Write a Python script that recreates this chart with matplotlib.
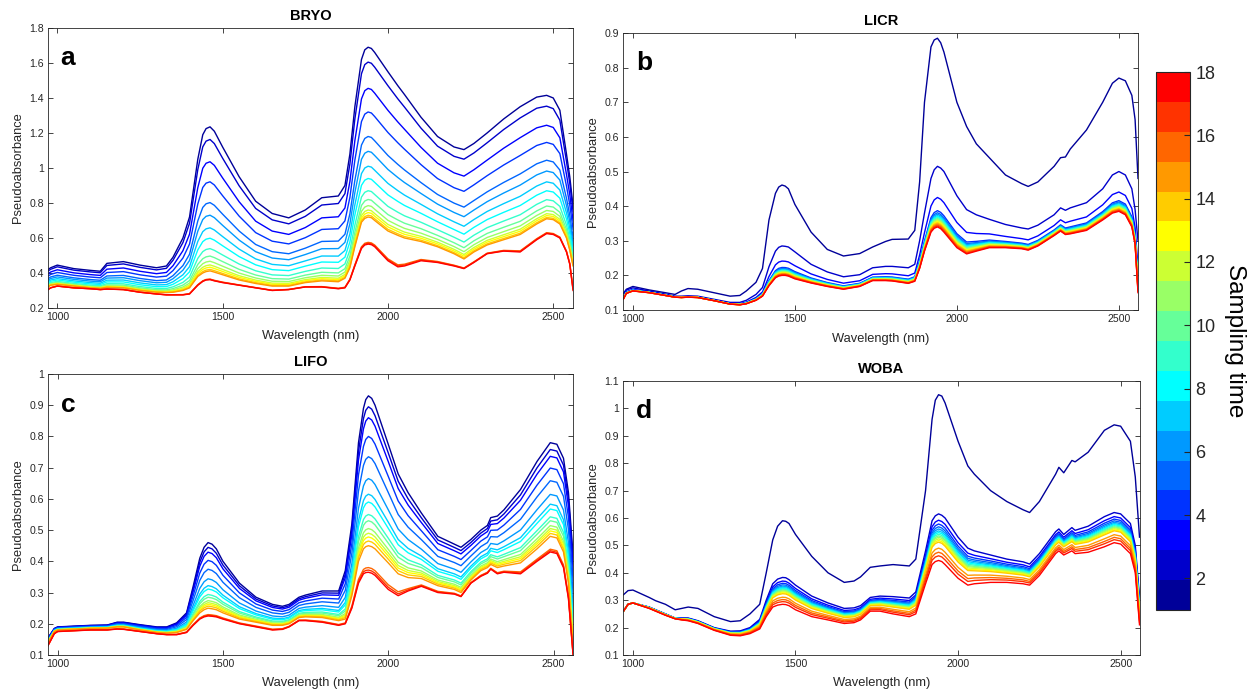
"""Pseudoabsorbance NIR spectra of four cryptogam groups over 18 sampling times."""

import matplotlib
matplotlib.use("Agg")
import matplotlib.pyplot as plt
import numpy as np
from matplotlib.cm import ScalarMappable
from matplotlib.colors import ListedColormap, Normalize

# --- data -----------------------------------------------------------------
# each panel: a wavelength grid, a few "key" spectra (read directly), and the
# ~1940 nm peak value of every sampling time 1..18 (also)

titles = ["BRYO", "LICR", "LIFO", "WOBA"]
letters = ["a", "b", "c", "d"]
sampling_times = list(range(1, 19))

# BRYO
wl_a = [972, 980, 1000, 1050, 1100, 1130, 1150, 1200, 1250, 1300,
        1330, 1350, 1380, 1400, 1425, 1440, 1450, 1462, 1475, 1500,
        1550, 1600, 1650, 1700, 1750, 1800, 1850, 1870, 1885, 1900,
        1920, 1930, 1940, 1950, 1960, 2000, 2030, 2050, 2100, 2150,
        2200, 2230, 2260, 2300, 2350, 2400, 2450, 2480, 2500, 2520,
        2540, 2550, 2560]
bryo_t1 = [0.42, 0.43, 0.445, 0.425, 0.415, 0.41, 0.455, 0.465, 0.445, 0.43,
           0.44, 0.49, 0.6, 0.72, 1.05, 1.19, 1.225, 1.235, 1.21, 1.12,
           0.95, 0.81, 0.74, 0.715, 0.76, 0.83, 0.84, 0.9, 1.08, 1.35,
           1.62, 1.675, 1.69, 1.683, 1.66, 1.55, 1.47, 1.42, 1.29, 1.18,
           1.12, 1.105, 1.14, 1.2, 1.28, 1.35, 1.405, 1.415, 1.4, 1.33,
           1.08, 0.95, 0.78]
bryo_t15 = [0.32, 0.33, 0.335, 0.325, 0.315, 0.312, 0.318, 0.315, 0.3, 0.29,
            0.288, 0.29, 0.3, 0.315, 0.38, 0.4, 0.408, 0.412, 0.405, 0.39,
            0.36, 0.34, 0.325, 0.325, 0.345, 0.355, 0.35, 0.37, 0.43, 0.55,
            0.69, 0.712, 0.72, 0.716, 0.7, 0.64, 0.615, 0.6, 0.58, 0.55,
            0.51, 0.48, 0.52, 0.56, 0.59, 0.62, 0.68, 0.71, 0.705, 0.68,
            0.6, 0.53, 0.44]
bryo_t18 = [0.305, 0.315, 0.325, 0.315, 0.31, 0.305, 0.308, 0.305, 0.29, 0.28,
            0.275, 0.275, 0.275, 0.28, 0.33, 0.352, 0.36, 0.362, 0.355, 0.345,
            0.33, 0.315, 0.3, 0.305, 0.32, 0.32, 0.31, 0.315, 0.36, 0.44,
            0.54, 0.56, 0.565, 0.562, 0.55, 0.47, 0.435, 0.44, 0.47, 0.46,
            0.44, 0.425, 0.46, 0.51, 0.525, 0.52, 0.59, 0.625, 0.62, 0.6,
            0.52, 0.45, 0.3]
bryo_peaks = [1.69, 1.605, 1.455, 1.32, 1.18, 1.095, 1.01, 0.94, 0.87, 0.82, 0.785, 0.76,
              0.745, 0.73, 0.72, 0.575, 0.57, 0.565]

# LICR
wl_b = [971, 980, 1000, 1050, 1100, 1130, 1150, 1170, 1200, 1250,
        1300, 1330, 1350, 1380, 1400, 1420, 1440, 1450, 1460, 1470,
        1480, 1500, 1550, 1600, 1650, 1700, 1740, 1780, 1800, 1850,
        1870, 1885, 1900, 1920, 1930, 1940, 1950, 1960, 2000, 2030,
        2060, 2100, 2150, 2200, 2220, 2250, 2300, 2320, 2335, 2350,
        2400, 2450, 2480, 2500, 2520, 2540, 2550, 2559]
licr_t1 = [0.148, 0.16, 0.168, 0.158, 0.15, 0.145, 0.155, 0.162, 0.16, 0.15,
           0.14, 0.142, 0.155, 0.18, 0.22, 0.36, 0.437, 0.455, 0.461, 0.458,
           0.45, 0.405, 0.325, 0.275, 0.256, 0.263, 0.282, 0.298, 0.304, 0.305,
           0.33, 0.47, 0.7, 0.86, 0.88, 0.885, 0.872, 0.845, 0.7, 0.63,
           0.58, 0.54, 0.49, 0.465, 0.457, 0.47, 0.515, 0.54, 0.542, 0.565,
           0.62, 0.7, 0.755, 0.77, 0.762, 0.72, 0.65, 0.48]
licr_t2 = [0.148, 0.158, 0.164, 0.155, 0.146, 0.14, 0.14, 0.141, 0.14, 0.131,
           0.122, 0.122, 0.128, 0.145, 0.165, 0.225, 0.27, 0.281, 0.285, 0.284,
           0.282, 0.268, 0.232, 0.21, 0.196, 0.202, 0.222, 0.226, 0.226, 0.222,
           0.232, 0.3, 0.38, 0.48, 0.505, 0.515, 0.51, 0.5, 0.43, 0.39,
           0.375, 0.362, 0.347, 0.337, 0.334, 0.345, 0.375, 0.395, 0.388, 0.395,
           0.41, 0.45, 0.49, 0.5, 0.49, 0.45, 0.39, 0.3]
licr_t18 = [0.132, 0.148, 0.155, 0.15, 0.142, 0.137, 0.136, 0.137, 0.136, 0.127,
            0.117, 0.115, 0.118, 0.128, 0.14, 0.17, 0.193, 0.198, 0.2, 0.2,
            0.198, 0.19, 0.178, 0.168, 0.16, 0.168, 0.185, 0.185, 0.184, 0.177,
            0.183, 0.22, 0.27, 0.325, 0.336, 0.34, 0.335, 0.325, 0.28, 0.262,
            0.27, 0.28, 0.28, 0.277, 0.273, 0.285, 0.315, 0.328, 0.318, 0.32,
            0.33, 0.36, 0.38, 0.385, 0.375, 0.34, 0.29, 0.15]
licr_peaks = [0.885, 0.515, 0.425, 0.387, 0.381, 0.377, 0.373, 0.37, 0.367, 0.364, 0.361, 0.358,
              0.355, 0.352, 0.349, 0.346, 0.343, 0.34]

# LIFO
wl_c = [971, 990, 1000, 1100, 1150, 1180, 1200, 1250, 1300, 1330,
        1360, 1390, 1410, 1430, 1443, 1455, 1467, 1480, 1500, 1550,
        1600, 1650, 1680, 1700, 1730, 1750, 1800, 1850, 1870, 1890,
        1910, 1925, 1932, 1940, 1950, 1960, 2000, 2030, 2060, 2100,
        2150, 2200, 2220, 2250, 2280, 2300, 2310, 2330, 2350, 2400,
        2450, 2490, 2510, 2530, 2545, 2559]
lifo_t1 = [0.155, 0.185, 0.19, 0.195, 0.196, 0.205, 0.205, 0.197, 0.19, 0.19,
           0.203, 0.235, 0.32, 0.41, 0.445, 0.46, 0.455, 0.44, 0.4, 0.33,
           0.285, 0.262, 0.256, 0.262, 0.285, 0.292, 0.305, 0.305, 0.37, 0.52,
           0.78, 0.89, 0.918, 0.93, 0.922, 0.9, 0.775, 0.68, 0.62, 0.555,
           0.48, 0.455, 0.445, 0.47, 0.5, 0.515, 0.54, 0.545, 0.565, 0.63,
           0.72, 0.78, 0.775, 0.73, 0.62, 0.42]
lifo_t15 = [0.14, 0.175, 0.18, 0.185, 0.186, 0.19, 0.19, 0.18, 0.172, 0.17,
            0.172, 0.182, 0.21, 0.235, 0.245, 0.25, 0.248, 0.245, 0.235, 0.215,
            0.205, 0.195, 0.195, 0.2, 0.22, 0.222, 0.22, 0.21, 0.215, 0.29,
            0.4, 0.44, 0.447, 0.45, 0.447, 0.44, 0.395, 0.36, 0.348, 0.345,
            0.322, 0.31, 0.3, 0.34, 0.37, 0.38, 0.39, 0.38, 0.385, 0.395,
            0.44, 0.48, 0.475, 0.43, 0.33, 0.12]
lifo_t18 = [0.13, 0.168, 0.175, 0.18, 0.18, 0.183, 0.182, 0.175, 0.168, 0.165,
            0.165, 0.172, 0.195, 0.215, 0.222, 0.225, 0.224, 0.222, 0.215, 0.2,
            0.19, 0.18, 0.182, 0.19, 0.21, 0.21, 0.205, 0.195, 0.2, 0.25,
            0.33, 0.36, 0.364, 0.365, 0.362, 0.355, 0.31, 0.29, 0.305, 0.32,
            0.3, 0.295, 0.287, 0.33, 0.352, 0.362, 0.375, 0.36, 0.365, 0.36,
            0.4, 0.43, 0.425, 0.38, 0.28, 0.1]
lifo_peaks = [0.93, 0.895, 0.86, 0.8, 0.735, 0.665, 0.615, 0.59, 0.55, 0.53, 0.505, 0.49,
              0.478, 0.465, 0.45, 0.38, 0.372, 0.365]

# WOBA
wl_d = [971, 985, 1000, 1050, 1070, 1100, 1130, 1150, 1170, 1200,
        1250, 1300, 1330, 1360, 1390, 1410, 1430, 1445, 1460, 1470,
        1480, 1500, 1550, 1600, 1650, 1680, 1700, 1730, 1760, 1800,
        1850, 1870, 1900, 1920, 1930, 1940, 1950, 1960, 2000, 2030,
        2050, 2100, 2150, 2200, 2220, 2250, 2300, 2310, 2325, 2350,
        2360, 2400, 2450, 2480, 2500, 2530, 2545, 2558]
woba_t1 = [0.32, 0.335, 0.337, 0.31, 0.298, 0.285, 0.265, 0.27, 0.275, 0.27,
           0.24, 0.222, 0.225, 0.25, 0.285, 0.4, 0.52, 0.57, 0.59, 0.588,
           0.58, 0.54, 0.46, 0.4, 0.365, 0.37, 0.385, 0.42, 0.425, 0.43,
           0.425, 0.45, 0.7, 0.96, 1.03, 1.05, 1.045, 1.02, 0.88, 0.79,
           0.76, 0.7, 0.66, 0.63, 0.62, 0.66, 0.76, 0.785, 0.765, 0.81,
           0.805, 0.84, 0.92, 0.94, 0.935, 0.88, 0.75, 0.53]
woba_t2 = [0.26, 0.285, 0.29, 0.275, 0.265, 0.25, 0.235, 0.235, 0.235, 0.225,
           0.2, 0.187, 0.188, 0.2, 0.23, 0.3, 0.36, 0.377, 0.383, 0.382,
           0.375, 0.355, 0.315, 0.29, 0.27, 0.272, 0.28, 0.31, 0.315, 0.313,
           0.308, 0.33, 0.48, 0.59, 0.608, 0.615, 0.61, 0.6, 0.53, 0.49,
           0.48, 0.465, 0.45, 0.44, 0.432, 0.47, 0.55, 0.56, 0.54, 0.565,
           0.555, 0.57, 0.605, 0.62, 0.615, 0.58, 0.5, 0.31]
woba_t18 = [0.26, 0.285, 0.29, 0.27, 0.26, 0.245, 0.232, 0.228, 0.225, 0.215,
            0.19, 0.172, 0.17, 0.178, 0.195, 0.24, 0.275, 0.282, 0.285, 0.284,
            0.28, 0.265, 0.24, 0.228, 0.215, 0.218, 0.228, 0.26, 0.26, 0.25,
            0.24, 0.25, 0.36, 0.43, 0.441, 0.445, 0.441, 0.43, 0.38, 0.355,
            0.36, 0.365, 0.365, 0.36, 0.355, 0.39, 0.47, 0.48, 0.465, 0.48,
            0.47, 0.475, 0.495, 0.51, 0.505, 0.47, 0.4, 0.21]
woba_peaks = [1.05, 0.615, 0.592, 0.578, 0.568, 0.56, 0.553, 0.547, 0.541, 0.535, 0.53, 0.524,
              0.518, 0.512, 0.49, 0.475, 0.462, 0.445]

# 18-step jet-like palette used for sampling time 1..18
time_colors = ["#000099", "#0000cc", "#0000ff", "#0033ff", "#0066ff", "#0099ff",
               "#00ccff", "#00ffff", "#33ffcc", "#66ff99", "#99ff66", "#ccff33",
               "#ffff00", "#ffcc00", "#ff9900", "#ff6600", "#ff3300", "#ff0000"]


def fan(peaks, key_peaks, key_curves):
    """Spectrum for each sampling time, placed between the read key spectra
    according to its ~1940 nm peak height."""
    kp = np.asarray(key_peaks, dtype=float)
    kc = np.asarray(key_curves, dtype=float)
    order = np.argsort(kp)
    kp, kc = kp[order], kc[order]
    return [np.array([np.interp(p, kp, kc[:, j]) for j in range(kc.shape[1])])
            for p in peaks]


panels = [
    # wl, key peaks, key curves, per-time peaks, ylim, y step, axes rect
    (wl_a, [1.69, 0.72, 0.565], [bryo_t1, bryo_t15, bryo_t18], bryo_peaks,
     (0.2, 1.8), 0.2, [0.0383, 0.5562, 0.4187, 0.4035]),
    (wl_b, [0.885, 0.515, 0.34], [licr_t1, licr_t2, licr_t18], licr_peaks,
     (0.1, 0.9), 0.1, [0.4972, 0.5533, 0.4103, 0.3991]),
    (wl_c, [0.93, 0.45, 0.365], [lifo_t1, lifo_t15, lifo_t18], lifo_peaks,
     (0.1, 1.0), 0.1, [0.0383, 0.0562, 0.4187, 0.4049]),
    (wl_d, [1.05, 0.615, 0.445], [woba_t1, woba_t2, woba_t18], woba_peaks,
     (0.1, 1.1), 0.1, [0.4972, 0.0562, 0.4115, 0.3948]),
]

plt.rcParams["font.family"] = ["Liberation Sans", "DejaVu Sans"]
ink = "#262626"

fig = plt.figure(figsize=(12.54, 6.94), dpi=100)

for i, (wl, kp, kc, peaks, ylim, ystep, rect) in enumerate(panels):
    ax = fig.add_axes(rect)
    curves = fan(peaks, kp, kc)
    for t, y in zip(sampling_times, curves):
        ax.plot(wl, y, color=time_colors[t - 1], lw=1.0)
    ax.set_xlim(wl[0], wl[-1])
    ax.set_ylim(*ylim)
    ax.set_xticks([1000, 1500, 2000, 2500])
    yt = np.round(np.arange(ylim[0], ylim[1] + 1e-9, ystep), 2)
    ax.set_yticks(yt)
    ax.set_yticklabels([f"{v:g}" for v in yt])
    ax.tick_params(direction="in", top=True, right=True, length=3.5, width=0.6,
                   labelsize=7.6, colors=ink, pad=3)
    for sp in ax.spines.values():
        sp.set_color(ink)
        sp.set_linewidth(0.6)
    ax.set_title(titles[i], fontsize=10.5, fontweight="bold", pad=6)
    ax.set_xlabel("Wavelength (nm)", fontsize=9.3, color=ink, labelpad=6)
    ax.set_ylabel("Pseudoabsorbance", fontsize=9.3, color=ink, labelpad=4)
    ax.text(0.024, 0.866, letters[i], transform=ax.transAxes, fontsize=19,
            fontweight="bold", va="baseline", ha="left")

cax = fig.add_axes([0.9219, 0.1210, 0.0271, 0.7752])
sm = ScalarMappable(norm=Normalize(1, 18), cmap=ListedColormap(time_colors))
cb = fig.colorbar(sm, cax=cax, ticks=range(2, 19, 2))
cb.outline.set_linewidth(0.8)
cb.outline.set_edgecolor(ink)
cb.ax.tick_params(direction="in", length=4, width=0.8, labelsize=13,
                  colors=ink, pad=4)
cb.set_label("Sampling time", rotation=270, fontsize=17.5, labelpad=22)

fig.savefig("out.png", dpi=100)
